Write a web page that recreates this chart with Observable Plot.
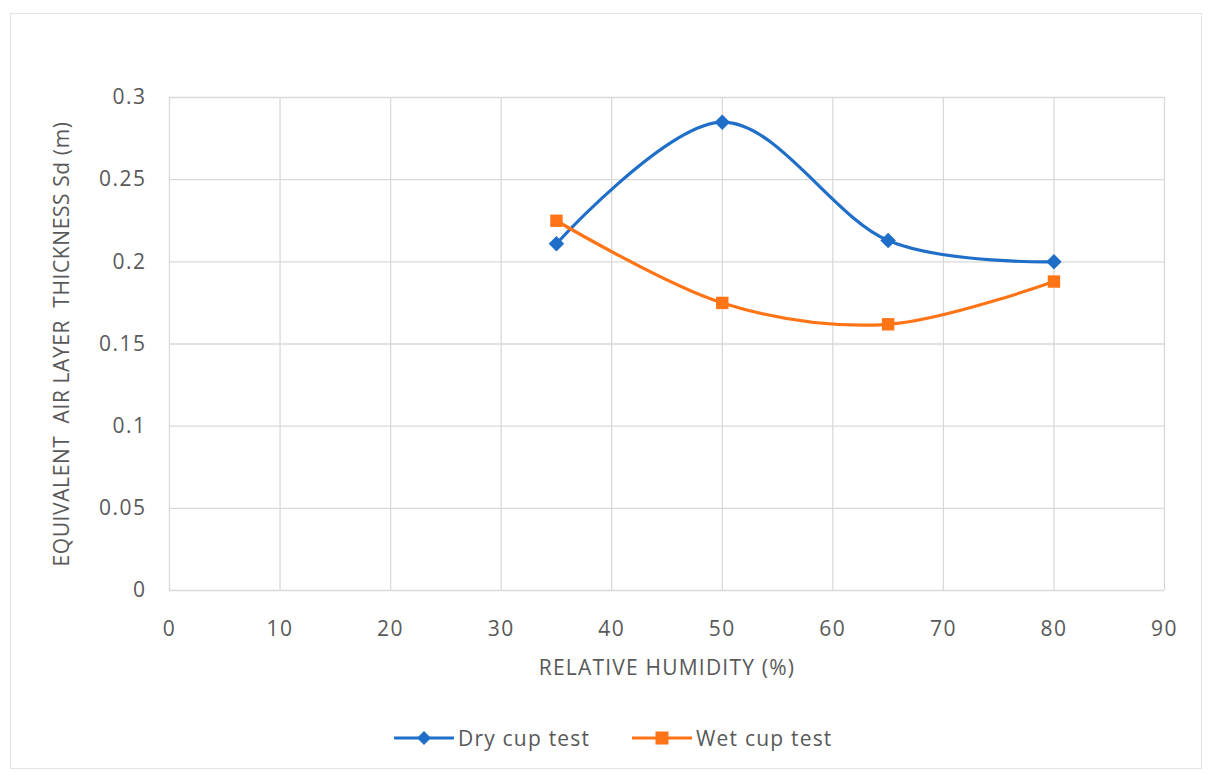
<!DOCTYPE html>
<html><head><meta charset="utf-8">
<script src="https://cdn.jsdelivr.net/npm/d3@7"></script>
<script src="https://cdn.jsdelivr.net/npm/@observablehq/plot@0.6"></script>
<style>
body{margin:0;background:#fff;font-family:"Open Sans",Lato,sans-serif;}
#wrap{position:relative;width:1220px;height:774px;overflow:hidden;background:#fff}
#frame{position:absolute;left:10px;top:13px;width:1192px;height:756px;border:1.5px solid #e4e4e4;box-sizing:border-box;pointer-events:none}
#chart{position:absolute;left:0;top:0}
#legend{position:absolute;top:723px;left:0;width:1220px;height:30px;}
.item{position:absolute;top:0;height:30px;display:flex;align-items:center;font-size:21px;letter-spacing:1.2px;color:#595959;}
.item svg{margin-right:4px}
</style>
</head><body>
<div id="wrap"><div id="chart"></div><div id="legend"></div><div id="frame"></div></div>
<script>
const humidity = [35, 50, 65, 80];
const dryCup = [0.211, 0.285, 0.213, 0.200];
const wetCup = [0.225, 0.175, 0.162, 0.188];
const seriesNames = ["Dry cup test", "Wet cup test"];
const seriesColors = ["#1f6ec8", "#ff7417"];
const seriesSymbols = ["diamond2", "square"];
const xTicks = [0, 10, 20, 30, 40, 50, 60, 70, 80, 90];
const yTicks = [0, 0.05, 0.1, 0.15, 0.2, 0.25, 0.3];
const xLabel = "RELATIVE HUMIDITY (%)";
const yLabel = "EQUIVALENT  AIR LAYER  THICKNESS Sd (m)";

const rows = [];
humidity.forEach((h, i) => {
  rows.push({rh: h, sd: dryCup[i], series: seriesNames[0]});
  rows.push({rh: h, sd: wetCup[i], series: seriesNames[1]});
});

const fmtY = d => String(+d.toFixed(2));

const chart = Plot.plot({
  width: 1220,
  height: 710,
  marginLeft: 169,
  marginRight: 56,
  marginTop: 97,
  marginBottom: 120,
  style: {fontFamily: "'Open Sans', Lato, sans-serif", color: "#595959", background: "transparent"},
  x: {domain: [0, 90]},
  y: {domain: [0, 0.3]},
  color: {domain: seriesNames, range: seriesColors},
  symbol: {domain: seriesNames, range: seriesSymbols},
  marks: [
    Plot.gridX(xTicks, {stroke: "#d9d9d9", strokeOpacity: 1, strokeWidth: 1.3}),
    Plot.gridY(yTicks, {stroke: "#d9d9d9", strokeOpacity: 1, strokeWidth: 1.3}),
    Plot.axisX(xTicks, {tickSize: 0, tickPadding: 31, fontSize: 21, label: xLabel, labelAnchor: "center", labelOffset: 84, labelArrow: "none"}),
    Plot.axisY(yTicks, {tickSize: 0, tickPadding: 23, fontSize: 21, tickFormat: fmtY, label: yLabel, labelAnchor: "center", labelOffset: 115, labelArrow: "none"}),
    Plot.line(rows, {x: "rh", y: "sd", z: "series", stroke: "series", strokeWidth: 3.2, curve: "cardinal"}),
    Plot.dot(rows, {x: "rh", y: "sd", fill: "series", symbol: "series", r: 7, stroke: null})
  ]
});
chart.querySelectorAll("[aria-label='x-axis tick label'] text, [aria-label='y-axis tick label'] text").forEach(t => { t.style.letterSpacing = "1.5px"; });
chart.querySelectorAll("[aria-label='x-axis label'] text").forEach(t => { t.style.fontSize = "21px"; t.style.letterSpacing = "1.2px"; });
chart.querySelectorAll("[aria-label='y-axis label'] text").forEach(t => { t.style.fontSize = "21px"; t.style.letterSpacing = "0.6px"; t.style.whiteSpace = "pre"; t.setAttribute("xml:space", "preserve"); });
document.getElementById("chart").appendChild(chart);

// legend
const legend = document.getElementById("legend");
const legendX = [394, 632];
seriesNames.forEach((name, i) => {
  const item = document.createElement("div");
  item.className = "item";
  item.style.left = legendX[i] + "px";
  const sym = i === 0
    ? `<polygon points="30,8 37,15 30,22 23,15" fill="${seriesColors[i]}"/>`
    : `<rect x="23.5" y="8.5" width="13" height="13" fill="${seriesColors[i]}"/>`;
  item.innerHTML = `<svg width="60" height="30"><line x1="0" x2="60" y1="15" y2="15" stroke="${seriesColors[i]}" stroke-width="3.2"/>${sym}</svg><span>${name}</span>`;
  legend.appendChild(item);
});
</script>
</body></html>
